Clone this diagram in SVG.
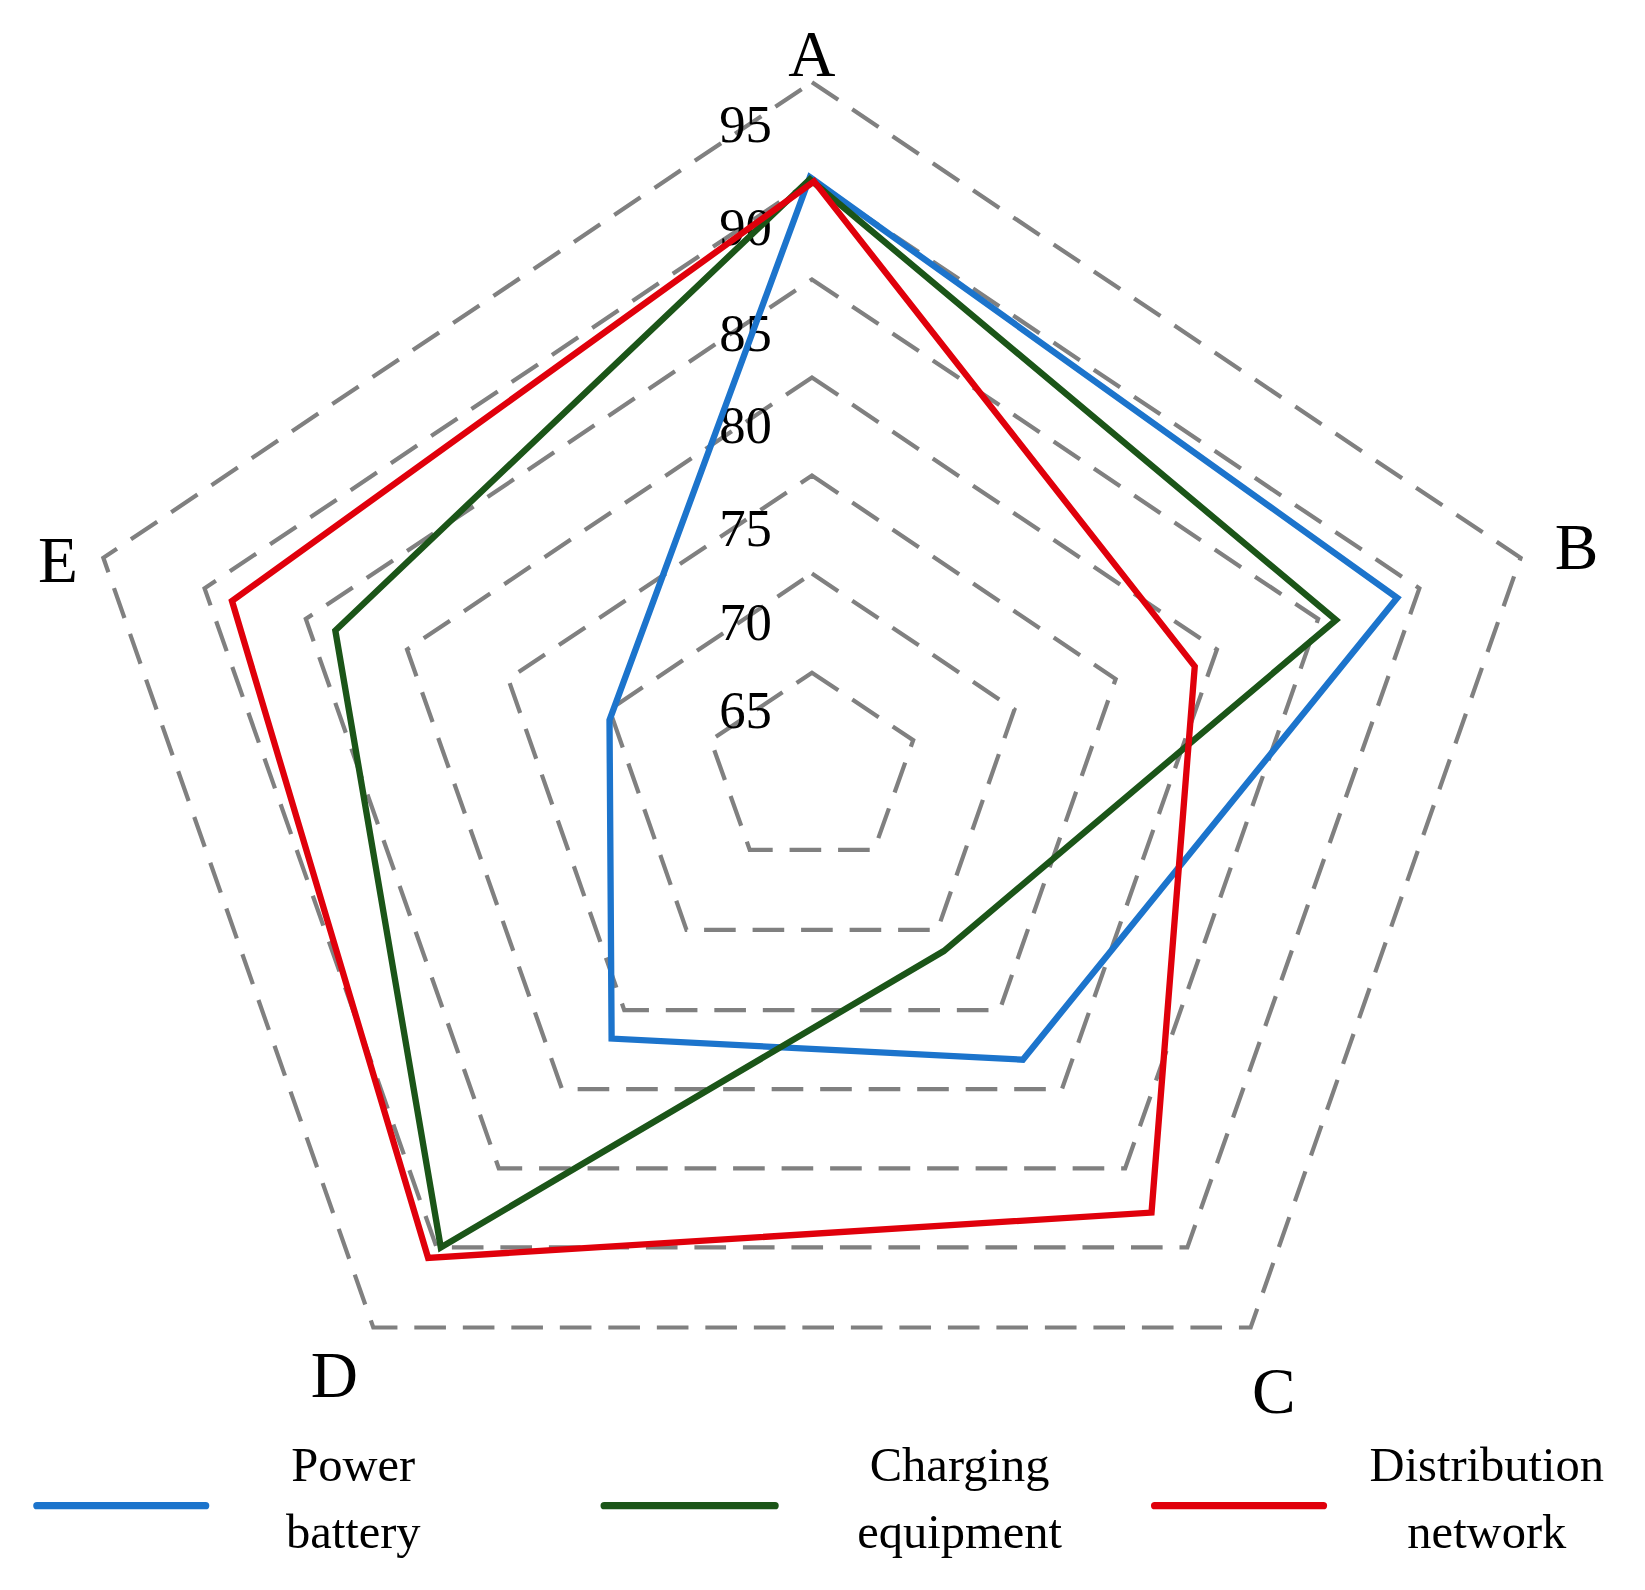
<svg xmlns="http://www.w3.org/2000/svg" width="1645" height="1590" viewBox="0 0 1645 1590">
<style>
.ring{fill:none;stroke:#808080;stroke-width:4;stroke-dasharray:30 16}
.s{fill:none;stroke-width:6;stroke-linejoin:miter}
text{font-family:"Liberation Serif","Times New Roman",serif;fill:#000}
.ax{font-size:62px;text-anchor:middle}
.tk{font-size:50px;text-anchor:end}
.lg{font-size:46px;text-anchor:middle}
</style>
<rect width="1645" height="1590" fill="#fff"/>
<g transform="scale(1.0545,1.0544)">
<g id="grid">
<polygon class="ring" points="770,78 1442,529 1186,1259 354,1259 98,529"/>
<polygon class="ring" points="770,171 1346,558 1126,1183 414,1183 194,558"/>
<polygon class="ring" points="770,265 1250,587 1067,1108 473,1108 290,587"/>
<polygon class="ring" points="770,358 1154,616 1007,1033 533,1033 386,616"/>
<polygon class="ring" points="770,451 1058,644 948,958 592,958 482,644"/>
<polygon class="ring" points="770,544 962,673 889,882 651,882 578,673"/>
<polygon class="ring" points="770,638 866,702 829,806 711,806 674,702"/>
</g>
<g id="ticks">
<text class="tk" x="732" y="135">95</text>
<text class="tk" x="732" y="232">90</text>
<text class="tk" x="732" y="333">85</text>
<text class="tk" x="732" y="420">80</text>
<text class="tk" x="732" y="518">75</text>
<text class="tk" x="732" y="607">70</text>
<text class="tk" x="732" y="690">65</text>
</g>
<g id="series">
<polygon id="power-battery" class="s" stroke="#1c74cc" points="768,168 1325,567 970,1005 580,985 578,683"/>
<polygon id="charging-equipment" class="s" stroke="#1b5518" points="768,170 1267,588 895,902 418,1183 318,598"/>
<polygon id="distribution-network" class="s" stroke="#e0000b" points="772,172 1133,632 1092,1150 406,1193 220,570"/>
</g>
<g id="axis-labels">
<text class="ax" x="770" y="72">A</text>
<text class="ax" x="1495" y="540">B</text>
<text class="ax" x="1208" y="1340">C</text>
<text class="ax" x="317" y="1325">D</text>
<text class="ax" x="55" y="552">E</text>
</g>
<g id="legend">
<line x1="35" y1="1428" x2="195" y2="1428" stroke="#1c74cc" stroke-width="7" stroke-linecap="round"/>
<line x1="573" y1="1428" x2="735" y2="1428" stroke="#1b5518" stroke-width="7" stroke-linecap="round"/>
<line x1="1095" y1="1428" x2="1255" y2="1428" stroke="#e0000b" stroke-width="7" stroke-linecap="round"/>
<text class="lg" x="335" y="1405">Power</text>
<text class="lg" x="335" y="1468">battery</text>
<text class="lg" x="910" y="1405">Charging</text>
<text class="lg" x="910" y="1468">equipment</text>
<text class="lg" x="1410" y="1405">Distribution</text>
<text class="lg" x="1410" y="1468">network</text>
</g>
</g>
</svg>
